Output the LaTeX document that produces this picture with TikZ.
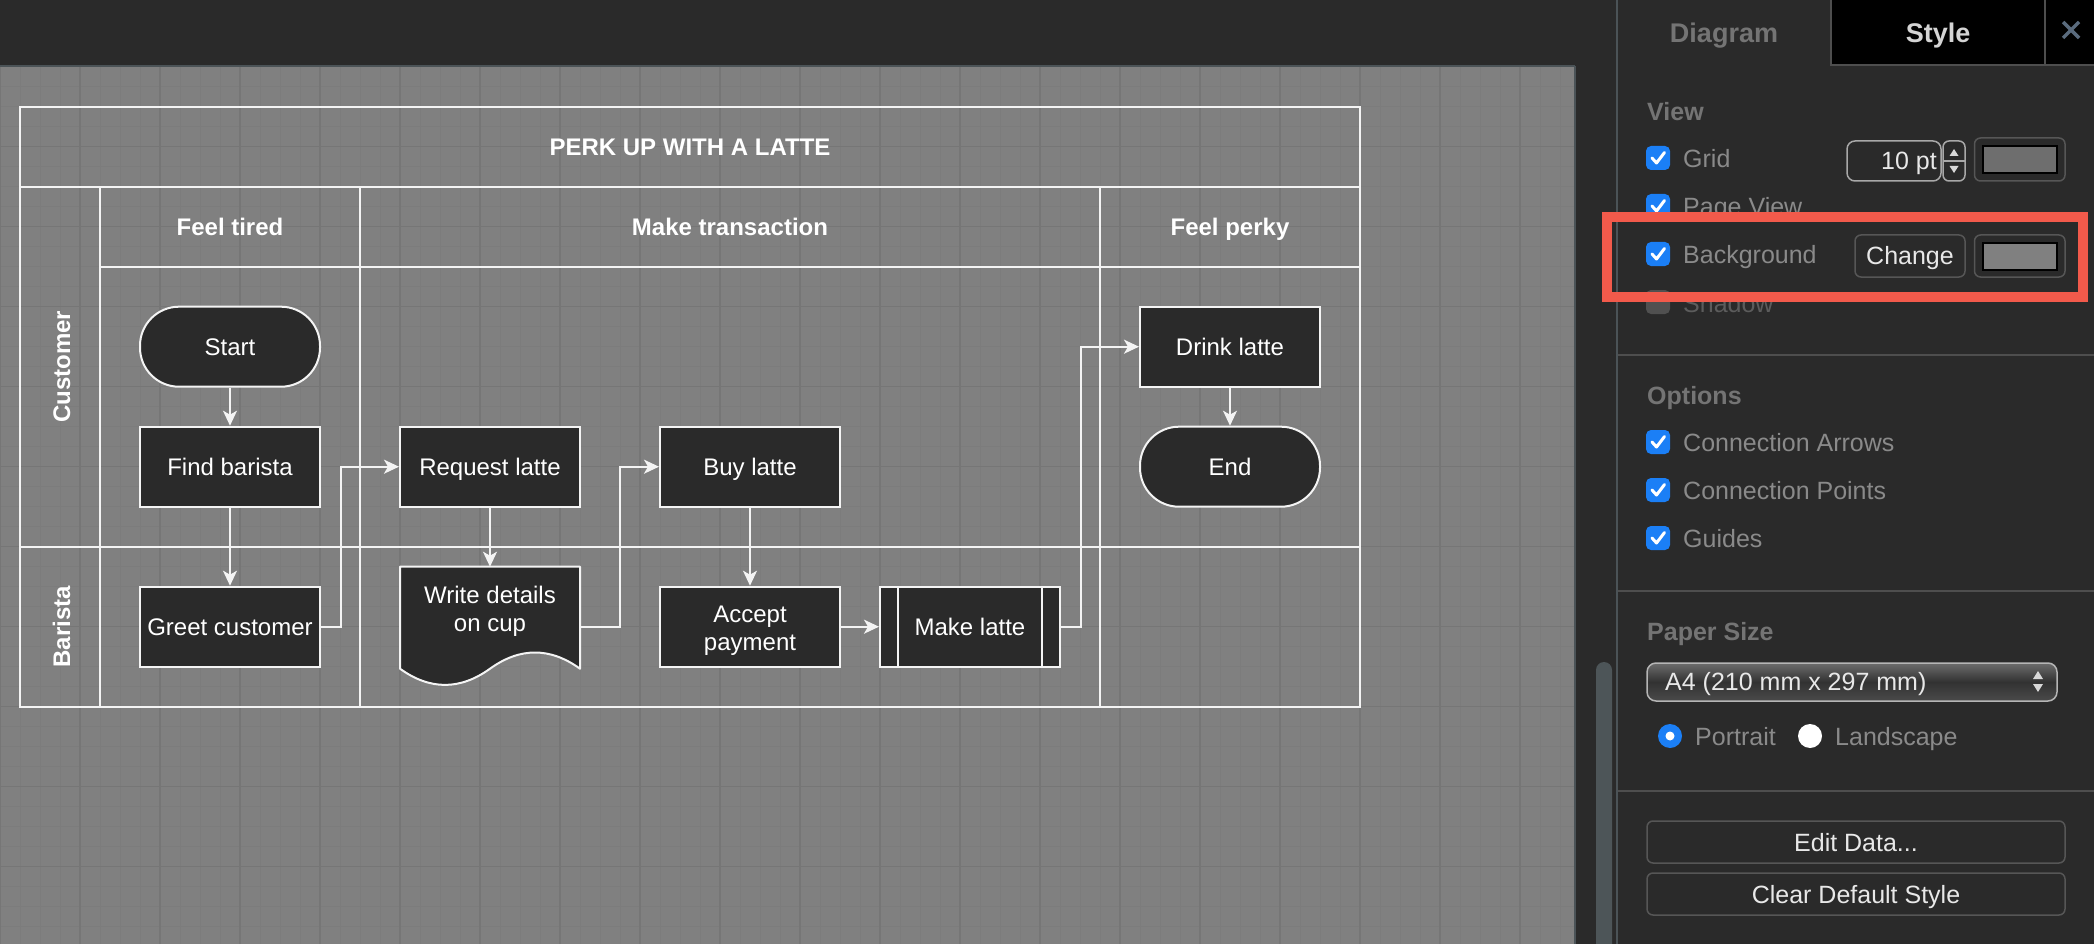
\documentclass[tikz,border=0pt]{standalone}
\usepackage{fontspec}
\setmainfont{Liberation Sans}
\usetikzlibrary{arrows.meta,calc}
\definecolor{canvasbg}{HTML}{808080}
\definecolor{gridminor}{HTML}{7C7C7C}
\definecolor{gridmajor}{HTML}{767676}
\definecolor{uidark}{HTML}{2A2A2A}
\definecolor{uiborder}{HTML}{4B5357}
\definecolor{nodefill}{HTML}{2A2A2A}
\definecolor{linew}{HTML}{F4F4F4}
\definecolor{cbblue}{HTML}{1B7FF6}
\definecolor{redbox}{HTML}{F25A4B}
\definecolor{uitext}{HTML}{8A8A8A}
\definecolor{uihead}{HTML}{747474}
\definecolor{uibright}{HTML}{E8E8E8}
\definecolor{tabstyle}{HTML}{D4D4D4}
\definecolor{sepline}{HTML}{4E4E4E}
\definecolor{btnborder}{HTML}{565656}
\definecolor{fieldborder}{HTML}{A8A8A8}
\definecolor{scrollc}{HTML}{4D5558}
\definecolor{closec}{HTML}{5A6B7D}
\definecolor{gridswatch}{HTML}{6E6E6E}
\definecolor{disabledc}{HTML}{505050}
\definecolor{dimtext}{HTML}{5C5C5C}
\definecolor{ddtop}{HTML}{6C6C6C}
\definecolor{ddmid}{HTML}{323232}
\definecolor{ddbot}{HTML}{4A4A4A}
\definecolor{ddborder}{HTML}{B5B5B5}
\definecolor{tri}{HTML}{D8D8D8}

\tikzset{
  dfont/.style={font=\fontsize{24}{28}\selectfont},
  procbase/.style={draw=linew, line width=2pt, fill=nodefill, text=white, minimum width=180pt, minimum height=80pt, inner sep=0pt, dfont, align=center},
  proc/.style={procbase, text height=17.4pt, text depth=0pt},
  term/.style={proc, rounded corners=39pt},
  multitext/.style={text=white, dfont, align=center, inner sep=0pt},
  pool/.style={draw=linew, line width=2pt},
  conn/.style={draw=linew, line width=2pt, -{Stealth[length=15pt,width=14pt,inset=4pt]}},
  hdr/.style={text=white, inner sep=0pt, font=\fontsize{24}{28}\selectfont\bfseries, text height=17.2pt, text depth=0pt},
  ui/.style={anchor=base west, inner sep=0pt, text=uitext, font=\fontsize{25}{30}\selectfont},
  uih/.style={ui, text=uihead, font=\fontsize{25}{30}\selectfont\bfseries},
  uibtn/.style={anchor=base, inner sep=0pt, text=uibright, font=\fontsize{25}{30}\selectfont},
  tabtext/.style={anchor=base, inner sep=0pt, font=\fontsize{27}{32}\selectfont\bfseries},
  btnbox/.style={draw=btnborder, line width=1.5pt, rounded corners=6pt},
  cbox/.pic={
    \fill[cbblue, rounded corners=5pt] (-12,-12) rectangle (12,12);
    \draw[white, line width=3pt, line cap=round, line join=round] (-6,0) -- (-1.5,5) -- (6.5,-5.5);
  },
}

\begin{document}
\begin{tikzpicture}[x=1pt,y=-1pt]
\useasboundingbox (0,0) rectangle (2094,944);

% ---------- canvas with grid ----------
\begin{scope}
\clip (0,66.7) rectangle (1575,944);
\fill[canvasbg] (0,66.7) rectangle (1575,944);
\foreach \i in {0,...,79} { \draw[gridminor, line width=1pt] (\i*20,66.7) -- (\i*20,944); }
\foreach \j in {0,...,44} { \draw[gridminor, line width=1pt] (0,66.7+\j*20) -- (1575,66.7+\j*20); }
\foreach \i in {0,...,19} { \draw[gridmajor, line width=1.3pt] (\i*80,66.7) -- (\i*80,944); }
\foreach \j in {0,...,11} { \draw[gridmajor, line width=1.3pt] (0,66.7+\j*80) -- (1575,66.7+\j*80); }
\end{scope}

% ---------- window chrome ----------
\fill[uidark] (0,0) rectangle (1617,66);
\draw[uiborder, line width=1.5pt] (0,66.2) -- (1575,66.2);
\fill[uidark] (1575,66) rectangle (1617,944);
\draw[uiborder, line width=1.5pt] (1575.2,66) -- (1575.2,944);
\fill[scrollc] (1596,944) -- (1596,670) arc[start angle=180, end angle=0, radius=8pt] -- (1612,944) -- cycle;
\fill[uidark] (1617,0) rectangle (2094,944);

% ---------- swimlane pool ----------
\draw[pool] (20,106.7) rectangle (1360,706.7);
\draw[pool] (20,186.7) -- (1360,186.7);
\draw[pool] (100,186.7) -- (100,706.7);
\draw[pool] (100,266.7) -- (1360,266.7);
\draw[pool] (360,186.7) -- (360,706.7);
\draw[pool] (1100,186.7) -- (1100,706.7);
\draw[pool] (20,546.7) -- (1360,546.7);

\node[hdr] (title) at (690,146.7) {PERK UP WITH A LATTE};
\node[hdr] (col1) at (230,226.7) {Feel tired};
\node[hdr] (col2) at (730,226.7) {Make transaction};
\node[hdr] (col3) at (1230,226.7) {Feel perky};
\node[hdr, rotate=90] (lane1) at (61.5,366.7) {Customer};
\node[hdr, rotate=90] (lane2) at (61.5,626.7) {Barista};

% ---------- flow nodes ----------
\node[term] (start) at (230,346.7) {Start};
\node[proc] (find) at (230,466.7) {Find barista};
\node[proc] (greet) at (230,626.7) {Greet customer};
\node[proc] (req) at (490,466.7) {Request latte};
\fill[nodefill] (400,566.7) -- (580,566.7) -- (580,668.7) .. controls (550,647.1) and (520,647.1) .. (490,668.7) .. controls (460,690.3) and (430,690.3) .. (400,668.7) -- cycle;
\draw[pool, line join=round] (400,566.7) -- (580,566.7) -- (580,668.7) .. controls (550,647.1) and (520,647.1) .. (490,668.7) .. controls (460,690.3) and (430,690.3) .. (400,668.7) -- cycle;
\node[multitext] (doc) at (490,611.5) {Write details\\on cup};
\coordinate (docTop) at (490,566.7);
\coordinate (docRight) at (580,626.7);
\node[proc] (buy) at (750,466.7) {Buy latte};
\node[procbase] (accept) at (750,626.7) {};
\node[multitext] (accepttext) at (750,630.7) {Accept\\payment};
\node[proc] (make) at (970,626.7) {Make latte};
\draw[pool] (898,586.7) -- (898,666.7);
\draw[pool] (1042,586.7) -- (1042,666.7);
\node[proc] (drink) at (1230,346.7) {Drink latte};
\node[term] (endn) at (1230,466.7) {End};

% ---------- connectors ----------
\draw[conn] (start.south) -- (find.north);
\draw[conn] (find.south) -- (greet.north);
\draw[conn] (greet.east) -- ++(20,0) |- (req.west);
\draw[conn] (req.south) -- (docTop);
\draw[conn] (docRight) -- ++(40,0) |- (buy.west);
\draw[conn] (buy.south) -- (accept.north);
\draw[conn] (accept.east) -- (make.west);
\draw[conn] (make.east) -- ++(20,0) |- (drink.west);
\draw[conn] (drink.south) -- (endn.north);

% ---------- format panel ----------
\fill[black] (1831,0) rectangle (2094,65);
\draw[sepline, line width=2pt] (1831,0) -- (1831,65) -- (2094,65);
\draw[sepline, line width=2pt] (2045,0) -- (2045,65);
\draw[uiborder, line width=2pt] (1617,0) -- (1617,944);
\node[tabtext, text=uihead] (tabdiagram) at (1724,42.3) {Diagram};
\node[tabtext, text=tabstyle] (tabstyle) at (1938,42.3) {Style};
\draw[closec, line width=3.5pt] (2063,22) -- (2079,38) (2079,22) -- (2063,38);

\node[uih] (view) at (1647,120.5) {View};
\pic at (1658,158) {cbox};
\node[ui] (lgrid) at (1683,168) {Grid};
\draw[fieldborder, line width=1.5pt, rounded corners=8pt] (1847,141) rectangle (1941,181);
\node[anchor=base east, inner sep=0pt, text=uibright, font=\fontsize{25}{30}\selectfont] (gridsize) at (1937,170) {10 pt};
\draw[fieldborder, line width=1.5pt, rounded corners=6pt] (1943,141) rectangle (1965,181);
\draw[fieldborder, line width=1.2pt] (1943,161) -- (1965,161);
\fill[tri] (1949.5,156) -- (1958.5,156) -- (1954,149) -- cycle;
\fill[tri] (1949.5,166) -- (1958.5,166) -- (1954,173) -- cycle;
\draw[btnborder, line width=1.5pt, rounded corners=6pt] (1974.5,138) rectangle (2065,181);
\draw[black, line width=2pt, fill=gridswatch] (1982.5,146.5) rectangle (2057,173);

\pic at (1658,206) {cbox};
\node[ui] (lpage) at (1683,215.5) {Page View};

\pic at (1658,254) {cbox};
\node[ui] (lbg) at (1683,263.5) {Background};
\draw[btnbox] (1855,235) rectangle (1965,277);
\node[uibtn] (change) at (1910,265) {Change};
\draw[btnborder, line width=1.5pt, rounded corners=6pt] (1974.5,235) rectangle (2065,277);
\draw[black, line width=2pt, fill=canvasbg] (1982.5,243) rectangle (2057,269.5);

\fill[disabledc, rounded corners=5pt] (1646,290) rectangle (1670,314);
\node[ui, text=dimtext] (lshadow) at (1683,312) {Shadow};

\draw[redbox, line width=10pt] (1607,217.3) rectangle (2083,297);

\draw[sepline, line width=2pt] (1618,354.6) -- (2094,354.6);
\node[uih] (options) at (1647,404.5) {Options};
\pic at (1658,442) {cbox};
\node[ui] (larrows) at (1683,451) {Connection Arrows};
\pic at (1658,490) {cbox};
\node[ui] (lpoints) at (1683,499) {Connection Points};
\pic at (1658,538) {cbox};
\node[ui] (lguides) at (1683,547) {Guides};

\draw[sepline, line width=2pt] (1618,590.7) -- (2094,590.7);
\node[uih] (paper) at (1647,640.5) {Paper Size};
\shade[rounded corners=9pt, top color=ddtop, bottom color=ddbot, middle color=ddmid] (1647,663) rectangle (2057,701);
\draw[ddborder, line width=1.5pt, rounded corners=9pt] (1647,663) rectangle (2057,701);
\node[ui, text=uibright] (papersel) at (1665,690.5) {A4 (210 mm x 297 mm)};
\fill[tri] (2033,679) -- (2043,679) -- (2038,671) -- cycle;
\fill[tri] (2033,684) -- (2043,684) -- (2038,692) -- cycle;

\fill[cbblue] (1670,736) circle (12pt);
\fill[white] (1670,736) circle (4.5pt);
\node[ui] (portrait) at (1695,745) {Portrait};
\fill[white] (1810,736) circle (12pt);
\node[ui] (landscape) at (1835,745) {Landscape};

\draw[sepline, line width=2pt] (1618,790.5) -- (2094,790.5);
\draw[btnbox] (1647,821) rectangle (2065,863);
\node[uibtn] (editdata) at (1856,851) {Edit Data...};
\draw[btnbox] (1647,873) rectangle (2065,915);
\node[uibtn] (cleardef) at (1856,903) {Clear Default Style};
\end{tikzpicture}
\end{document}
